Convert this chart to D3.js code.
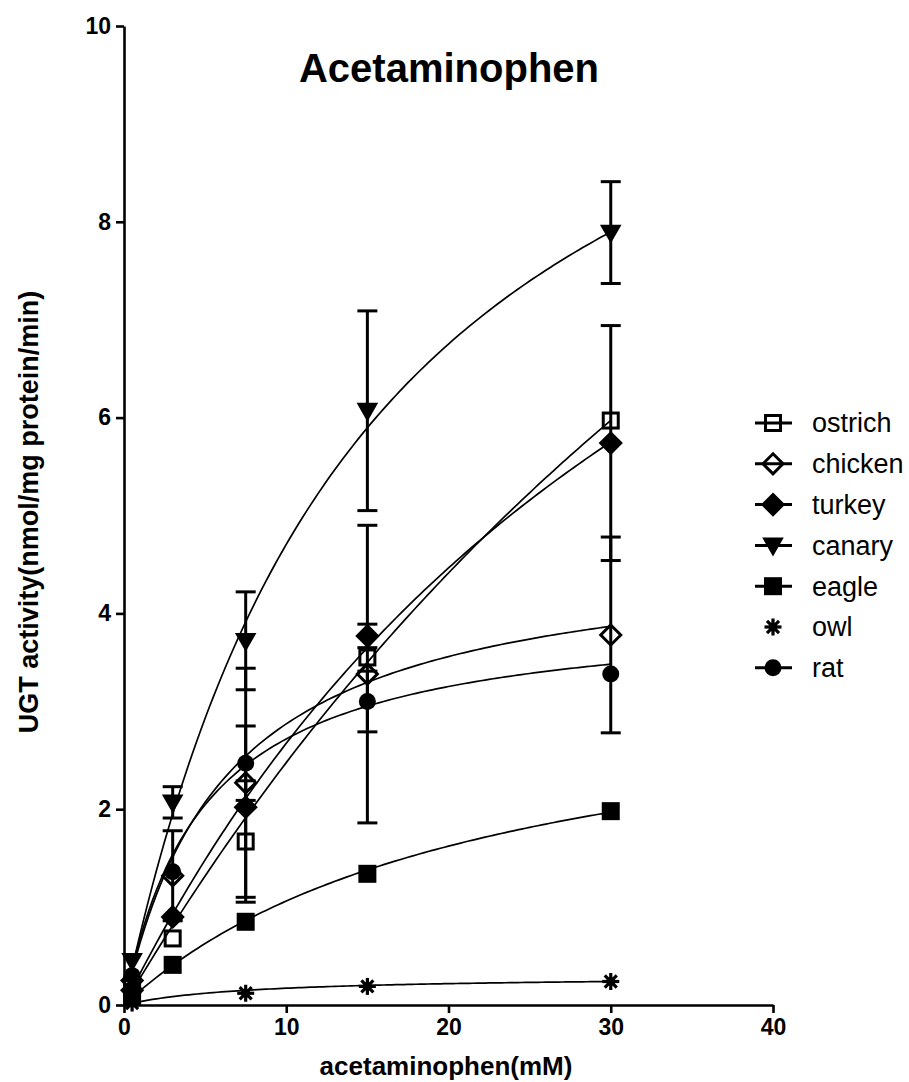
<!DOCTYPE html>
<html><head><meta charset="utf-8">
<script src="https://cdn.jsdelivr.net/npm/d3@7"></script>
<style>body{margin:0;background:#fff}svg{display:block}</style>
</head><body>
<svg id="c" width="909" height="1082"></svg>
<script>
const concentrations = [0.5, 3, 7.5, 15, 30];
const species = ["ostrich", "chicken", "turkey", "canary", "eagle", "owl", "rat"];
const ostrich = [0.20, 0.68, 1.67, 3.55, 5.97];
const chicken = [0.25, 1.32, 2.27, 3.38, 3.78];
const turkey  = [0.15, 0.90, 2.02, 3.77, 5.74];
const canary  = [0.45, 2.07, 3.72, 6.07, 7.89];
const eagle   = [0.08, 0.41, 0.85, 1.34, 1.98];
const owl     = [0.02, null, 0.12, 0.19, 0.24];
const rat     = [0.30, 1.36, 2.47, 3.10, 3.38];
const ostrichErr = [0, 0, 0.62, 0, 0];
const chickenErr = [0, 0.46, 1.17, 1.52, 1.00];
const turkeyErr  = [0, 0, 0, 0.12, 1.20];
const canaryErr  = [0, 0.16, 0.50, 1.02, 0.52];
const eagleErr   = [0, 0, 0, 0, 0];
const owlErr     = [0, 0, 0, 0, 0];
const ratErr     = [0, 0, 0.38, 0.31, 0];
// Michaelis-Menten fit parameters (Vmax, Km) per species
const fitVmax = [20.3, 4.68, 13.55, 11.95, 3.44, 0.30, 4.05];
const fitKm   = [72.0, 6.3, 40.7, 15.4, 22.4, 7.5, 4.9];
const xTicks = [0, 10, 20, 30, 40];
const yTicks = [0, 2, 4, 6, 8, 10];
const markerTypes = ["squareOpen", "diamondOpen", "diamond", "triangleDown", "square", "star", "circle"];

const values = [ostrich, chicken, turkey, canary, eagle, owl, rat];
const errors = [ostrichErr, chickenErr, turkeyErr, canaryErr, eagleErr, owlErr, ratErr];

const svg = d3.select("#c");
const font = "'Liberation Sans', Arial, sans-serif";
const x = d3.scaleLinear().domain([0, 40]).range([124, 773]);
const y = d3.scaleLinear().domain([0, 10]).range([1005, 26]);

function marker(g, type, cx, cy) {
  const s = 9;
  if (type === "squareOpen" || type === "square") {
    g.append("rect").attr("x", cx - s + 1.5).attr("y", cy - s + 1.5).attr("width", 2 * s - 3).attr("height", 2 * s - 3)
      .attr("fill", type === "square" ? "#000" : "none").attr("stroke", "#000").attr("stroke-width", 3);
  } else if (type === "diamondOpen" || type === "diamond") {
    const r = 10;
    g.append("path").attr("d", `M${cx},${cy - r}L${cx + r},${cy}L${cx},${cy + r}L${cx - r},${cy}Z`)
      .attr("fill", type === "diamond" ? "#000" : "none").attr("stroke", "#000").attr("stroke-width", 3);
  } else if (type === "triangleDown") {
    const r = 9.5;
    g.append("path").attr("d", `M${cx - r},${cy - r * 0.75}L${cx + r},${cy - r * 0.75}L${cx},${cy + r}Z`)
      .attr("fill", "#000").attr("stroke", "#000").attr("stroke-width", 1.5);
  } else if (type === "circle") {
    g.append("circle").attr("cx", cx).attr("cy", cy).attr("r", 8.5).attr("fill", "#000");
  } else if (type === "star") {
    const r = 8.5;
    for (let k = 0; k < 4; k++) {
      const a = k * Math.PI / 4;
      g.append("line").attr("x1", cx - r * Math.cos(a)).attr("y1", cy - r * Math.sin(a))
        .attr("x2", cx + r * Math.cos(a)).attr("y2", cy + r * Math.sin(a))
        .attr("stroke", "#000").attr("stroke-width", 3.2);
    }
    g.append("circle").attr("cx", cx).attr("cy", cy).attr("r", 4.5).attr("fill", "#000");
  }
}

// axes
const xAxis = d3.axisBottom(x).tickValues(xTicks).tickSize(8).tickSizeOuter(0).tickPadding(6);
const gx = svg.append("g").attr("transform", `translate(0,${y(0)})`).call(xAxis);
const yAxis = d3.axisLeft(y).tickValues(yTicks).tickSize(8).tickSizeOuter(0).tickPadding(5);
const gy = svg.append("g").attr("transform", `translate(${x(0)},0)`).call(yAxis);
[gx, gy].forEach(g => {
  g.select(".domain").attr("stroke", "#000").attr("stroke-width", 2.6);
  g.selectAll(".tick line").attr("stroke", "#000").attr("stroke-width", 2.6);
  g.selectAll(".tick text").attr("fill", "#000").attr("font-family", font)
    .attr("font-weight", "bold").attr("font-size", 23);
});

// fit curves
const curveGroup = svg.append("g");
species.forEach((sp, i) => {
  const pts = d3.range(0, 30.001, 0.25).map(c => [c, fitVmax[i] * c / (fitKm[i] + c)]);
  curveGroup.append("path")
    .attr("d", d3.line().x(d => x(d[0])).y(d => y(d[1]))(pts))
    .attr("fill", "none").attr("stroke", "#000").attr("stroke-width", 1.7);
});

// error bars
const errGroup = svg.append("g");
species.forEach((sp, i) => {
  concentrations.forEach((c, j) => {
    const e = errors[i][j];
    const v = values[i][j];
    if (!e || v == null) return;
    const cx = x(c);
    errGroup.append("line").attr("x1", cx).attr("x2", cx).attr("y1", y(v - e)).attr("y2", y(v + e))
      .attr("stroke", "#000").attr("stroke-width", 3);
    [v - e, v + e].forEach(t => {
      errGroup.append("line").attr("x1", cx - 10).attr("x2", cx + 10).attr("y1", y(t)).attr("y2", y(t))
        .attr("stroke", "#000").attr("stroke-width", 3);
    });
  });
});

// markers
const mGroup = svg.append("g");
species.forEach((sp, i) => {
  concentrations.forEach((c, j) => {
    if (values[i][j] == null) return;
    marker(mGroup, markerTypes[i], x(c), y(values[i][j]));
  });
});

// title
svg.append("text").attr("x", 449).attr("y", 82).attr("text-anchor", "middle")
  .attr("font-family", font).attr("font-weight", "bold").attr("font-size", 40).text("Acetaminophen");

// axis titles
svg.append("text").attr("x", 446).attr("y", 1075).attr("text-anchor", "middle")
  .attr("font-family", font).attr("font-weight", "bold").attr("font-size", 26).text("acetaminophen(mM)");
svg.append("text").attr("transform", "translate(38,512) rotate(-90)").attr("text-anchor", "middle")
  .attr("font-family", font).attr("font-weight", "bold").attr("font-size", 27).text("UGT activity(nmol/mg protein/min)");

// legend
const legend = svg.append("g");
species.forEach((sp, i) => {
  const ly = 423 + i * 40.8;
  if (markerTypes[i] !== "star") {
    legend.append("line").attr("x1", 755).attr("x2", 792).attr("y1", ly).attr("y2", ly)
      .attr("stroke", "#000").attr("stroke-width", 3);
  }
  marker(legend, markerTypes[i], 773, ly);
  legend.append("text").attr("x", 812).attr("y", ly).attr("dy", "0.35em")
    .attr("font-family", font).attr("font-size", 27).attr("fill", "#000").text(sp);
});
</script>
</body></html>
